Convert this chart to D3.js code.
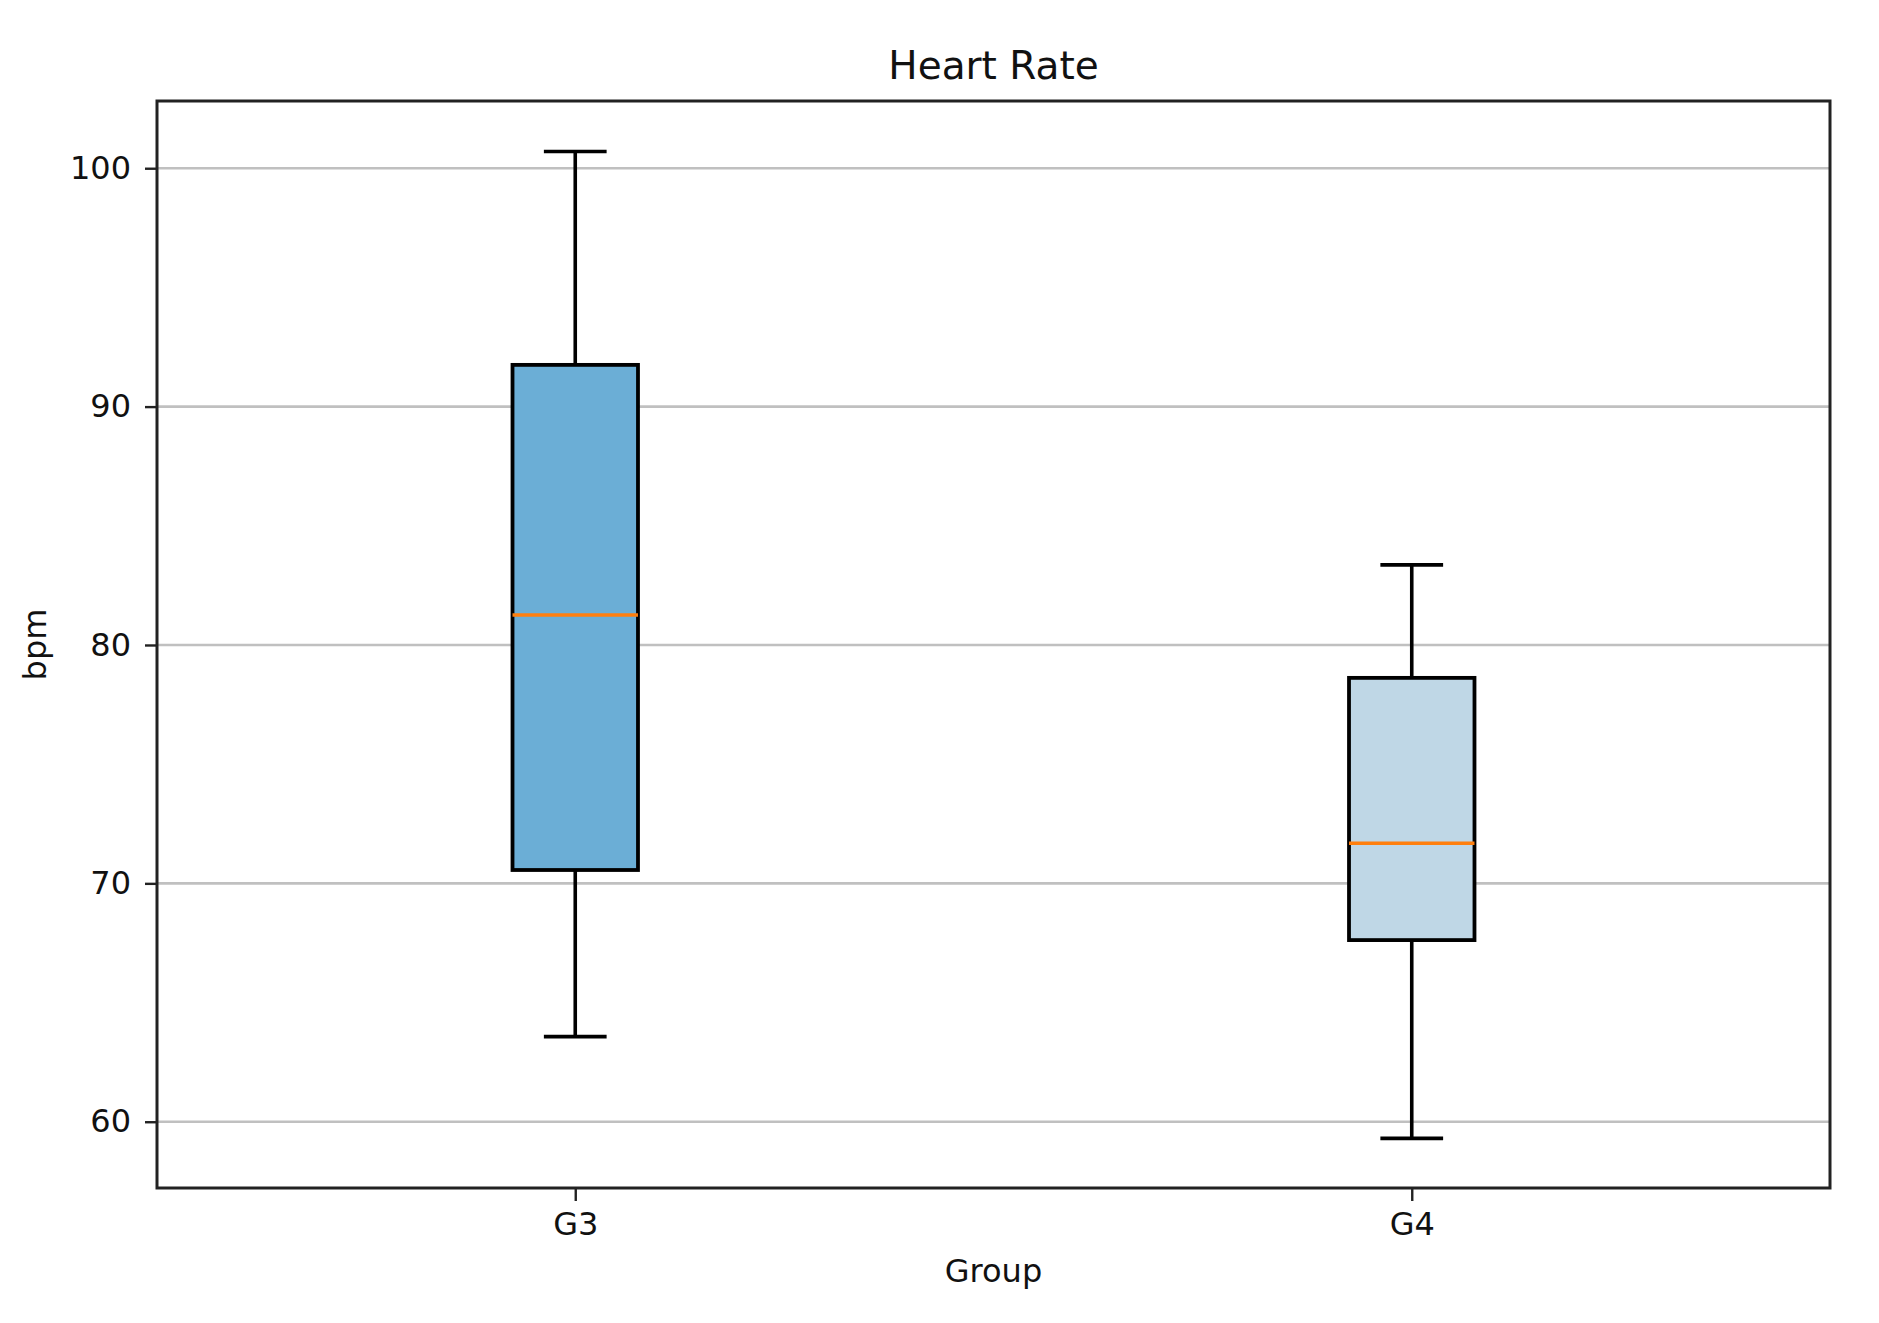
<!DOCTYPE html>
<html>
<head>
<meta charset="utf-8">
<script src="https://cdn.jsdelivr.net/npm/d3@7"></script>
<style>
  html, body { margin: 0; padding: 0; background: #fff; }
  svg { display: block; }
  text { font-family: "DejaVu Sans", sans-serif; fill: #111; }
</style>
</head>
<body>
<svg id="chart" width="1879" height="1323"></svg>
<script>
const groups = ["G3", "G4"];
const whiskerLow = [63.57, 59.30];
const q1Values = [70.56, 67.62];
const medianValues = [81.26, 71.68];
const q3Values = [91.75, 78.62];
const whiskerHigh = [100.70, 83.36];
const boxColors = ["#6baed6", "#bfd7e6"];
const yTicks = [60, 70, 80, 90, 100];
const titleText = "Heart Rate";
const xLabelText = "Group";
const yLabelText = "bpm";

(function () {
const svg = d3.select("#chart");
const pL = 157, pR = 1830, pT = 101, pB = 1188;

const x = d3.scaleLinear().domain([0.5, 2.5]).range([pL, pR]);
const y = d3.scaleLinear().domain([57.22, 102.82]).range([pB, pT]);
const boxW = 0.15, capW = 0.075;

// grid
svg.append("g").selectAll("line").data(yTicks).join("line")
  .attr("x1", pL).attr("x2", pR)
  .attr("y1", d => y(d)).attr("y2", d => y(d))
  .attr("stroke", "#c0c0c0").attr("stroke-width", 2.6);

const data = groups.map((g, i) => ({
  g, pos: i + 1, lo: whiskerLow[i], q1: q1Values[i], med: medianValues[i],
  q3: q3Values[i], hi: whiskerHigh[i], color: boxColors[i]
}));

const bx = svg.append("g").selectAll("g").data(data).join("g");
// whiskers
bx.append("line").attr("x1", d => x(d.pos)).attr("x2", d => x(d.pos))
  .attr("y1", d => y(d.q3)).attr("y2", d => y(d.hi))
  .attr("stroke", "#000").attr("stroke-width", 3.6);
bx.append("line").attr("x1", d => x(d.pos)).attr("x2", d => x(d.pos))
  .attr("y1", d => y(d.q1)).attr("y2", d => y(d.lo))
  .attr("stroke", "#000").attr("stroke-width", 3.6);
// caps
bx.append("line").attr("x1", d => x(d.pos - capW / 2)).attr("x2", d => x(d.pos + capW / 2))
  .attr("y1", d => y(d.hi)).attr("y2", d => y(d.hi))
  .attr("stroke", "#000").attr("stroke-width", 3.6);
bx.append("line").attr("x1", d => x(d.pos - capW / 2)).attr("x2", d => x(d.pos + capW / 2))
  .attr("y1", d => y(d.lo)).attr("y2", d => y(d.lo))
  .attr("stroke", "#000").attr("stroke-width", 3.6);
// box
bx.append("rect")
  .attr("x", d => x(d.pos - boxW / 2)).attr("width", d => x(d.pos + boxW / 2) - x(d.pos - boxW / 2))
  .attr("y", d => y(d.q3)).attr("height", d => y(d.q1) - y(d.q3))
  .attr("fill", d => d.color).attr("stroke", "#000").attr("stroke-width", 3.8);
// median
bx.append("line").attr("x1", d => x(d.pos - boxW / 2)).attr("x2", d => x(d.pos + boxW / 2))
  .attr("y1", d => y(d.med)).attr("y2", d => y(d.med))
  .attr("stroke", "#ff7f0e").attr("stroke-width", 3.6);

// axes
const yAxis = svg.append("g").attr("transform", `translate(${pL},0)`)
  .call(d3.axisLeft(y).tickValues(yTicks).tickSize(12).tickPadding(14).tickFormat(d3.format("d")));
const xAxis = svg.append("g").attr("transform", `translate(0,${pB})`)
  .call(d3.axisBottom(x).tickValues(data.map(d => d.pos)).tickSize(13).tickPadding(11)
    .tickFormat((d, i) => groups[i]));
[yAxis, xAxis].forEach(a => {
  a.select(".domain").remove();
  a.selectAll(".tick line").attr("stroke", "#222").attr("stroke-width", 2.4);
  a.selectAll(".tick text").attr("font-size", 32).attr("fill", "#111")
    .style("font-family", "'DejaVu Sans', sans-serif");
});

// frame
svg.append("rect").attr("x", pL).attr("y", pT)
  .attr("width", pR - pL).attr("height", pB - pT)
  .attr("fill", "none").attr("stroke", "#222").attr("stroke-width", 3);

// labels
svg.append("text").attr("x", (pL + pR) / 2).attr("y", 79)
  .attr("text-anchor", "middle").attr("font-size", 39).text(titleText);
svg.append("text").attr("x", (pL + pR) / 2).attr("y", 1282)
  .attr("text-anchor", "middle").attr("font-size", 32).text(xLabelText);
svg.append("text").attr("transform", `translate(46,${(pT + pB) / 2}) rotate(-90)`)
  .attr("text-anchor", "middle").attr("font-size", 32).text(yLabelText);
})();
</script>
</body>
</html>
